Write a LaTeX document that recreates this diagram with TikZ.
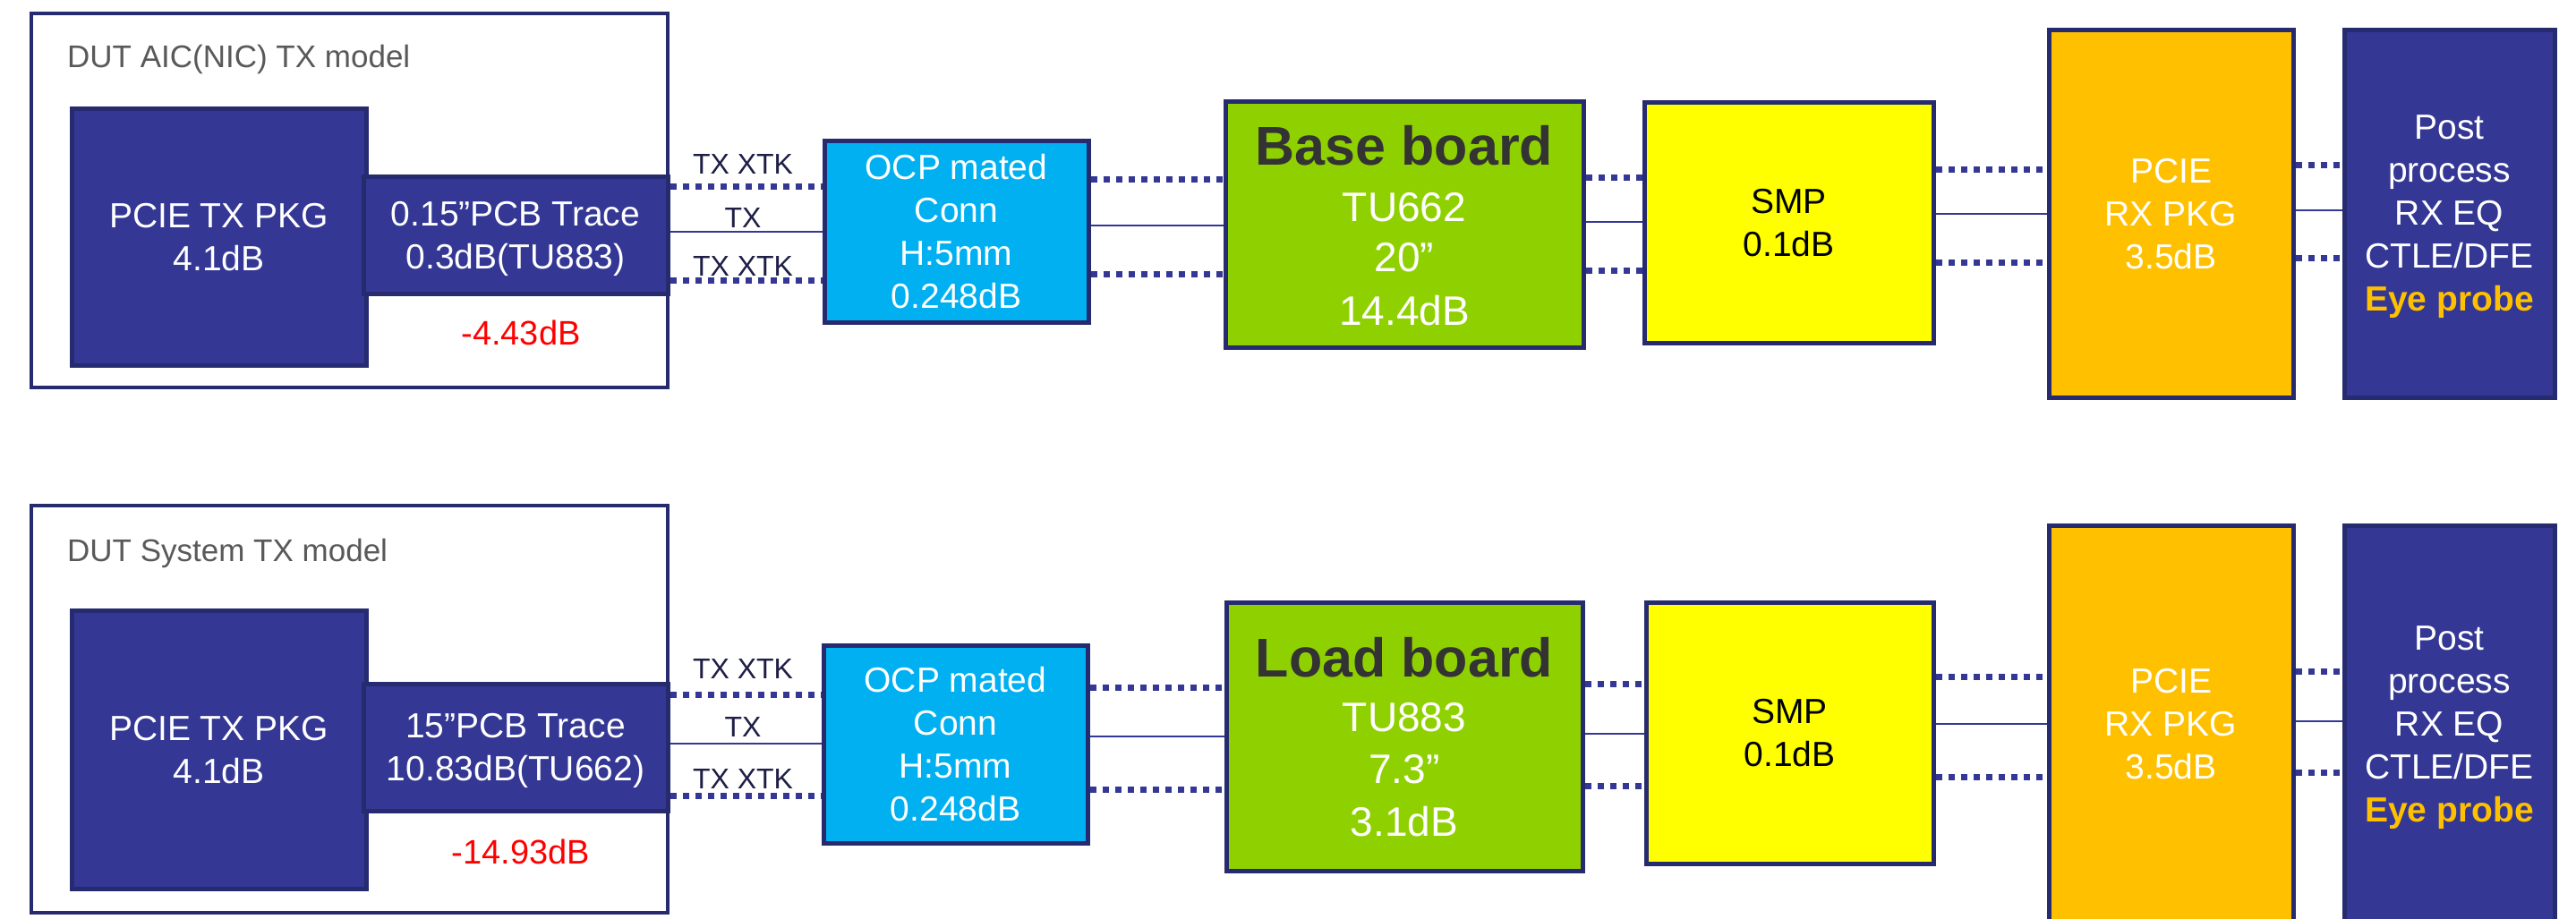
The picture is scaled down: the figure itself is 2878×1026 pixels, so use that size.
\documentclass[tikz,border=0pt]{standalone}
\usepackage{fontspec}
\setmainfont{Liberation Sans}
\definecolor{navyfill}{RGB}{52,56,148}
\definecolor{navyline}{RGB}{38,42,110}
\definecolor{cyanc}{RGB}{0,176,240}
\definecolor{greenc}{RGB}{143,209,0}
\definecolor{yellowc}{RGB}{255,255,0}
\definecolor{orangec}{RGB}{255,192,0}
\definecolor{redc}{RGB}{255,0,0}
\definecolor{titlegray}{RGB}{89,89,89}
\definecolor{labelc}{RGB}{30,30,70}
\definecolor{darktext}{RGB}{51,51,51}
\begin{document}
\begin{tikzpicture}[x=1pt,y=-1pt,
  blk/.style={draw=navyline, line width=5pt, inner sep=0pt, align=center, text depth=0pt, font=\fontsize{39}{48}\selectfont},
  outerbox/.style={draw=navyline, line width=4.5pt, fill=white, inner sep=0pt},
  titletxt/.style={anchor=base west, text=titlegray, inner sep=0pt, font=\fontsize{35}{42}\selectfont},
  lbl/.style={inner sep=0pt, text=labelc, font=\fontsize{32}{38}\selectfont},
  loss/.style={inner sep=0pt, text=redc, font=\fontsize{38}{46}\selectfont},
  bigtitle/.style={inner sep=0pt, text=darktext, font=\bfseries\fontsize{61}{70}\selectfont},
  greentxt/.style={inner sep=0pt, text=white, font=\fontsize{46}{55}\selectfont},
  multitxt/.style={inner sep=0pt, align=center, text depth=0pt, font=\fontsize{39}{48}\selectfont},
  xtk/.style={draw=navyfill, line width=7pt, dash pattern=on 7pt off 7pt},
  txl/.style={draw=navyfill, line width=2.5pt}
]
\clip (0,0) rectangle (2878,1026);
\fill[white] (0,0) rectangle (2878,1026);

% ================= TOP ROW =================
\node[outerbox, minimum width=711pt, minimum height=418pt] (dut1) at (390.5,224) {};
\node[titletxt] (dut1title) at (75,75) {DUT AIC(NIC) TX model};
\node[blk, fill=navyfill, text=white, minimum width=329pt, minimum height=287pt] (pkg1) at (244.5,264.5) {PCIE TX PKG\\4.1dB};
\node[blk, fill=navyfill, text=white, minimum width=340pt, minimum height=131pt] (trace1) at (576,262.5) {0.15”PCB Trace\\0.3dB(TU883)};
\node[loss] (loss1) at (582,372) {-4.43dB};

\node[lbl] (xtk1a) at (830,183) {TX XTK};
\node[lbl] (tx1) at (830,243) {TX};
\node[lbl] (xtk1b) at (830,297) {TX XTK};

\node[blk, fill=cyanc, text=white, minimum width=295pt, minimum height=203pt] (ocp1) at (1068.5,258.5) {OCP mated\\Conn\\H:5mm\\0.248dB};

\node[blk, fill=greenc, minimum width=400pt, minimum height=275pt] (green1) at (1569,250.5) {};
\node[bigtitle] (green1a) at (1569,163) {Base board};
\node[greentxt] (green1b) at (1569,232) {TU662};
\node[greentxt] (green1c) at (1569,288) {20”};
\node[greentxt] (green1d) at (1569,347) {14.4dB};

\node[blk, fill=yellowc, text=black, minimum width=323pt, minimum height=269pt] (smp1) at (1998.5,248.5) {SMP\\0.1dB};

\node[blk, fill=orangec, text=white, minimum width=273pt, minimum height=411pt] (rx1) at (2425.5,238.5) {PCIE\\RX PKG\\3.5dB};

\node[blk, fill=navyfill, text=white, minimum width=235pt, minimum height=411pt] (post1) at (2736.5,238.5) {Post\\process\\RX EQ\\CTLE/DFE\\\textbf{\textcolor{orangec}{Eye probe}}};

% connectors top
\draw[xtk] (trace1.east |- 0,208) -- (ocp1.west |- 0,208);
\draw[txl] (trace1.east |- 0,259) -- (ocp1.west |- 0,259);
\draw[xtk] (trace1.east |- 0,313) -- (ocp1.west |- 0,313);

\draw[xtk] (ocp1.east |- 0,200) -- (green1.west |- 0,200);
\draw[txl] (ocp1.east |- 0,252) -- (green1.west |- 0,252);
\draw[xtk] (ocp1.east |- 0,306) -- (green1.west |- 0,306);

\draw[xtk] (green1.east |- 0,198) -- (smp1.west |- 0,198);
\draw[txl] (green1.east |- 0,248) -- (smp1.west |- 0,248);
\draw[xtk] (green1.east |- 0,302) -- (smp1.west |- 0,302);

\draw[xtk] (smp1.east |- 0,189) -- (rx1.west |- 0,189);
\draw[txl] (smp1.east |- 0,239) -- (rx1.west |- 0,239);
\draw[xtk] (smp1.east |- 0,293) -- (rx1.west |- 0,293);

\draw[xtk] (rx1.east |- 0,184) -- (post1.west |- 0,184);
\draw[txl] (rx1.east |- 0,235) -- (post1.west |- 0,235);
\draw[xtk] (rx1.east |- 0,288) -- (post1.west |- 0,288);

% ================= BOTTOM ROW =================
\node[outerbox, minimum width=711pt, minimum height=455pt] (dut2) at (390.5,792.5) {};
\node[titletxt] (dut2title) at (75,627) {DUT System TX model};
\node[blk, fill=navyfill, text=white, minimum width=329pt, minimum height=311pt] (pkg2) at (244.5,837.5) {PCIE TX PKG\\4.1dB};
\node[blk, fill=navyfill, text=white, minimum width=340pt, minimum height=142pt] (trace2) at (576,835) {15”PCB Trace\\10.83dB(TU662)};
\node[loss] (loss2) at (582,952) {-14.93dB};

\node[lbl] (xtk2a) at (830,747) {TX XTK};
\node[lbl] (tx2) at (830,812) {TX};
\node[lbl] (xtk2b) at (830,870) {TX XTK};

\node[blk, fill=cyanc, text=white, minimum width=295pt, minimum height=221pt] (ocp2) at (1067.5,831.5) {OCP mated\\Conn\\H:5mm\\0.248dB};

\node[blk, fill=greenc, minimum width=398pt, minimum height=300pt] (green2) at (1569,823) {};
\node[bigtitle] (green2a) at (1569,735) {Load board};
\node[greentxt] (green2b) at (1569,802) {TU883};
\node[greentxt] (green2c) at (1569,860) {7.3”};
\node[greentxt] (green2d) at (1569,918) {3.1dB};

\node[blk, fill=yellowc, text=black, minimum width=321pt, minimum height=292pt] (smp2) at (1999.5,819) {SMP\\0.1dB};

\node[blk, fill=orangec, minimum width=273pt, minimum height=473pt] (rx2) at (2425.5,823.5) {};
\node[multitxt, text=white] (rx2txt) at (2425.5,809) {PCIE\\RX PKG\\3.5dB};

\node[blk, fill=navyfill, minimum width=235pt, minimum height=473pt] (post2) at (2736.5,823.5) {};
\node[multitxt, text=white] (post2txt) at (2736.5,809) {Post\\process\\RX EQ\\CTLE/DFE\\\textbf{\textcolor{orangec}{Eye probe}}};

% connectors bottom
\draw[xtk] (trace2.east |- 0,776) -- (ocp2.west |- 0,776);
\draw[txl] (trace2.east |- 0,831) -- (ocp2.west |- 0,831);
\draw[xtk] (trace2.east |- 0,889) -- (ocp2.west |- 0,889);

\draw[xtk] (ocp2.east |- 0,768) -- (green2.west |- 0,768);
\draw[txl] (ocp2.east |- 0,823) -- (green2.west |- 0,823);
\draw[xtk] (ocp2.east |- 0,882) -- (green2.west |- 0,882);

\draw[xtk] (green2.east |- 0,764) -- (smp2.west |- 0,764);
\draw[txl] (green2.east |- 0,820) -- (smp2.west |- 0,820);
\draw[xtk] (green2.east |- 0,878) -- (smp2.west |- 0,878);

\draw[xtk] (smp2.east |- 0,756) -- (rx2.west |- 0,756);
\draw[txl] (smp2.east |- 0,809) -- (rx2.west |- 0,809);
\draw[xtk] (smp2.east |- 0,868) -- (rx2.west |- 0,868);

\draw[xtk] (rx2.east |- 0,750) -- (post2.west |- 0,750);
\draw[txl] (rx2.east |- 0,806) -- (post2.west |- 0,806);
\draw[xtk] (rx2.east |- 0,863) -- (post2.west |- 0,863);
\end{tikzpicture}
\end{document}
